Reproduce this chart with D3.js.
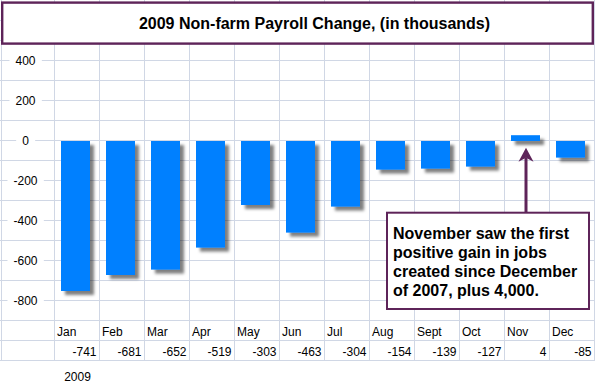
<!DOCTYPE html>
<html>
<head>
<meta charset="utf-8">
<script src="https://cdn.jsdelivr.net/npm/d3@7/dist/d3.min.js"></script>
<style>
  html, body { margin: 0; padding: 0; background: #fff; }
  svg { display: block; font-family: Arial, "Liberation Sans", sans-serif; }
</style>
</head>
<body>
<div id="chart"></div>
<script>
// data
const months = ['Jan', 'Feb', 'Mar', 'Apr', 'May', 'Jun', 'Jul', 'Aug', 'Sept', 'Oct', 'Nov', 'Dec'];
const tableValues = [-741, -681, -652, -519, -303, -463, -304, -154, -139, -127, 4, -85];
const barValues = [-750, -670, -643, -533, -320, -458, -328, -143, -138, -128, 29, -83];
const yTicks = [400, 200, 0, -200, -400, -600, -800];
const title = '2009 Non-farm Payroll Change, (in thousands)';
const yearLabel = '2009';
const noteLines = ['November saw the first', 'positive gain in jobs', 'created since December', 'of 2007, plus 4,000.'];

const width = 595, height = 389;
const gridColor = '#d0d7e5';
const purple = '#5e2459';

const svg = d3.select('#chart').append('svg')
  .attr('width', width)
  .attr('height', height);

// scales
const x = d3.scaleBand()
  .domain(months)
  .range([54, 594]);

const y = d3.scaleLinear()
  .domain([400, -800])
  .range([61, 301]);

// spreadsheet grid behind the chart
const grid = svg.append('g').attr('class', 'sheet-grid');
const colEdges = [1].concat(months.map(m => x(m)), [x.range()[1]]);
grid.selectAll('line.v')
  .data(colEdges)
  .enter().append('line')
  .attr('class', 'v')
  .attr('x1', d => Math.round(d) + 0.5)
  .attr('x2', d => Math.round(d) + 0.5)
  .attr('y1', 0)
  .attr('y2', 361)
  .attr('stroke', gridColor);

const rowLines = d3.range(20.5, 361, 20);
grid.selectAll('line.h')
  .data(rowLines)
  .enter().append('line')
  .attr('class', 'h')
  .attr('x1', 0)
  .attr('x2', width)
  .attr('y1', d => d)
  .attr('y2', d => d)
  .attr('stroke', gridColor);

// drop shadow for the bars
const defs = svg.append('defs');
defs.append('filter')
  .attr('id', 'shadow')
  .attr('x', '-20%').attr('y', '-20%')
  .attr('width', '160%').attr('height', '160%')
  .append('feDropShadow')
  .attr('dx', 4)
  .attr('dy', 4)
  .attr('stdDeviation', 1.6)
  .attr('flood-color', '#000')
  .attr('flood-opacity', 0.5);

// y axis labels with white backing
const yAxis = svg.append('g').attr('class', 'y axis');
const yLab = yAxis.selectAll('g')
  .data(yTicks)
  .enter().append('g')
  .attr('transform', d => `translate(25.5, ${y(d)})`);
yLab.append('rect')
  .attr('fill', '#fff');
yLab.append('text')
  .attr('text-anchor', 'middle')
  .attr('dy', '0.36em')
  .attr('font-size', 12)
  .attr('fill', '#000')
  .text(d => d);
yLab.each(function () {
  const g = d3.select(this);
  const bb = g.select('text').node().getBBox();
  g.select('rect')
    .attr('x', bb.x - 6)
    .attr('y', -6)
    .attr('width', bb.width + 12)
    .attr('height', 12);
});

// bars
svg.append('g')
  .attr('class', 'bars')
  .attr('filter', 'url(#shadow)')
  .selectAll('rect')
  .data(months)
  .enter().append('rect')
  .attr('x', d => x(d) + 7)
  .attr('width', x.bandwidth() - 16)
  .attr('y', (d, i) => Math.min(y(0), y(barValues[i])))
  .attr('height', (d, i) => Math.abs(y(barValues[i]) - y(0)))
  .attr('fill', '#0080ff');

// data table under the chart
svg.append('g')
  .selectAll('text')
  .data(months)
  .enter().append('text')
  .attr('x', d => x(d) + 3)
  .attr('y', 336)
  .attr('font-size', 12)
  .attr('fill', '#000')
  .text(d => d);

svg.append('g')
  .selectAll('text')
  .data(months)
  .enter().append('text')
  .attr('x', d => x(d) + x.bandwidth() - 2.5)
  .attr('y', 356)
  .attr('text-anchor', 'end')
  .attr('font-size', 12)
  .attr('fill', '#000')
  .text((d, i) => tableValues[i]);

svg.append('text')
  .attr('x', 77.5)
  .attr('y', 381)
  .attr('text-anchor', 'middle')
  .attr('font-size', 12)
  .attr('fill', '#000')
  .text(yearLabel);

// title box
svg.append('rect')
  .attr('x', 2.2)
  .attr('y', 2.6)
  .attr('width', 590.6)
  .attr('height', 41)
  .attr('fill', '#fff')
  .attr('stroke', purple)
  .attr('stroke-width', 2.4);

svg.append('text')
  .attr('x', 314.5)
  .attr('y', 29)
  .attr('text-anchor', 'middle')
  .attr('font-size', 16)
  .attr('font-weight', 'bold')
  .attr('fill', '#000')
  .text(title);

// annotation: arrow pointing at November
const novX = x('Nov') + x.bandwidth() / 2 - 0.5;
const tipY = y(barValues[10]) + 12.5;
svg.append('line')
  .attr('x1', novX)
  .attr('x2', novX)
  .attr('y1', 212)
  .attr('y2', tipY + 10)
  .attr('stroke', purple)
  .attr('stroke-width', 3);
svg.append('path')
  .attr('d', `M${novX},${tipY} L${novX + 7.5},${tipY + 14} L${novX},${tipY + 10} L${novX - 7.5},${tipY + 14} Z`)
  .attr('fill', purple);

svg.append('rect')
  .attr('x', 387)
  .attr('y', 212.7)
  .attr('width', 202)
  .attr('height', 96.3)
  .attr('fill', '#fff')
  .attr('stroke', purple)
  .attr('stroke-width', 2);

svg.append('g')
  .selectAll('text')
  .data(noteLines)
  .enter().append('text')
  .attr('x', 393)
  .attr('y', (d, i) => 238.5 + i * 19)
  .attr('font-size', 16)
  .attr('font-weight', 'bold')
  .attr('fill', '#000')
  .text(d => d);
</script>
</body>
</html>
